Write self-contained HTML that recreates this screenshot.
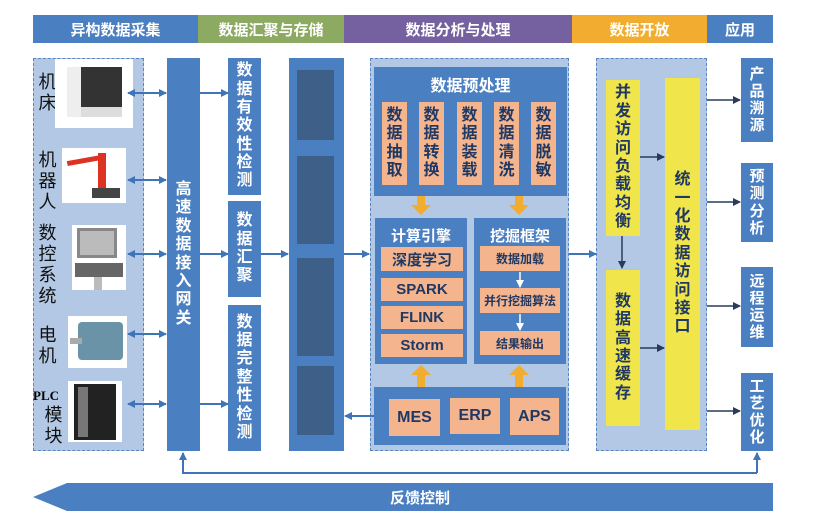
<!DOCTYPE html>
<html><head><meta charset="utf-8"><style>
body{margin:0;width:813px;height:526px;background:#fff;position:relative;overflow:hidden;font-family:"Liberation Sans","Noto Sans CJK SC",sans-serif}
.a{position:absolute;box-sizing:border-box}
.b{background:#4a7fc1}
.lb{background:#b3c8e4;border:1.5px dashed #5a86bf}
.v{display:flex;align-items:center;justify-content:center;text-align:center;font-weight:bold;color:#fff;word-break:break-all}
.v span{display:block;width:1em;line-height:1.15}
.o{background:#f3b48e;color:#1f3864}
.y{background:#f0e54a;color:#1f3864}
.h{color:#fff;font-weight:bold;font-size:15px;display:flex;align-items:center;justify-content:center}
.lab{color:#111;font-size:18px;line-height:21px;width:19px;text-align:center}
.img{background:#fff}
</style></head><body>
<!-- header -->
<div class="a h" style="left:33px;top:15px;width:165px;height:28px;background:#4a7fc1">异构数据采集</div>
<div class="a h" style="left:198px;top:15px;width:146px;height:28px;background:#8daa62">数据汇聚与存储</div>
<div class="a h" style="left:344px;top:15px;width:228px;height:28px;background:#7560a0">数据分析与处理</div>
<div class="a h" style="left:572px;top:15px;width:135px;height:28px;background:#f2ad30">数据开放</div>
<div class="a h" style="left:707px;top:15px;width:66px;height:28px;background:#4a7fc1">应用</div>

<!-- left panel -->
<div class="a lb" style="left:33px;top:58px;width:111px;height:393px"></div>
<div class="a lab" style="left:38px;top:72px">机床</div>
<div class="a lab" style="left:38px;top:150px">机器人</div>
<div class="a lab" style="left:38px;top:223px">数控系统</div>
<div class="a lab" style="left:38px;top:325px">电机</div>
<div class="a" style="left:33px;top:388px;font-family:'Liberation Serif',serif;font-weight:bold;font-size:13px">PLC</div>
<div class="a lab" style="left:44px;top:405px">模块</div>
<div class="a img" style="left:55px;top:59px;width:78px;height:69px"><div class="a" style="left:12px;top:8px;width:55px;height:50px;background:#333;border-bottom:10px solid #ddd"></div><div class="a" style="left:12px;top:8px;width:14px;height:50px;background:#eee"></div></div>
<div class="a img" style="left:62px;top:148px;width:64px;height:55px"><div class="a" style="left:36px;top:5px;width:8px;height:40px;background:#d32"></div><div class="a" style="left:5px;top:10px;width:35px;height:5px;background:#d32;transform:rotate(-10deg)"></div><div class="a" style="left:30px;top:40px;width:28px;height:10px;background:#444"></div></div>
<div class="a img" style="left:72px;top:225px;width:54px;height:65px"><div class="a" style="left:5px;top:3px;width:40px;height:30px;background:#bbb;border:3px solid #888"></div><div class="a" style="left:3px;top:38px;width:48px;height:14px;background:#666"></div><div class="a" style="left:22px;top:52px;width:8px;height:13px;background:#bbb"></div></div>
<div class="a img" style="left:68px;top:316px;width:59px;height:52px"><div class="a" style="left:10px;top:6px;width:45px;height:38px;background:#6a93a8;border-radius:4px"></div><div class="a" style="left:2px;top:22px;width:12px;height:6px;background:#aaa"></div></div>
<div class="a img" style="left:68px;top:381px;width:54px;height:61px"><div class="a" style="left:6px;top:3px;width:42px;height:56px;background:#222"></div><div class="a" style="left:10px;top:6px;width:10px;height:50px;background:#777"></div></div>

<!-- gateway -->
<div class="a b v" style="left:167px;top:58px;width:33px;height:393px;font-size:16px"><span>高速数据接入网关</span></div>
<!-- col3 -->
<div class="a b v" style="left:228px;top:58px;width:33px;height:137px;font-size:16px"><span>数据有效性检测</span></div>
<div class="a b v" style="left:228px;top:201px;width:33px;height:96px;font-size:16px"><span>数据汇聚</span></div>
<div class="a b v" style="left:228px;top:305px;width:33px;height:146px;font-size:16px"><span>数据完整性检测</span></div>
<!-- storage -->
<div class="a b" style="left:289px;top:58px;width:55px;height:393px"></div>
<div class="a" style="left:297px;top:70px;width:37px;height:70px;background:#3e5f87"></div>
<div class="a" style="left:297px;top:156px;width:37px;height:88px;background:#3e5f87"></div>
<div class="a" style="left:297px;top:258px;width:37px;height:98px;background:#3e5f87"></div>
<div class="a" style="left:297px;top:366px;width:37px;height:69px;background:#3e5f87"></div>

<!-- analysis -->
<div class="a lb" style="left:370px;top:58px;width:199px;height:393px"></div>
<div class="a b" style="left:374px;top:67px;width:193px;height:129px"></div>
<div class="a h" style="left:374px;top:72px;width:193px;height:24px;font-size:16px">数据预处理</div>
<div class="a o v" style="left:382px;top:102px;width:25px;height:83px;font-size:16px"><span>数据抽取</span></div>
<div class="a o v" style="left:419px;top:102px;width:25px;height:83px;font-size:16px"><span>数据转换</span></div>
<div class="a o v" style="left:457px;top:102px;width:25px;height:83px;font-size:16px"><span>数据装载</span></div>
<div class="a o v" style="left:494px;top:102px;width:25px;height:83px;font-size:16px"><span>数据清洗</span></div>
<div class="a o v" style="left:531px;top:102px;width:25px;height:83px;font-size:16px"><span>数据脱敏</span></div>

<div class="a b" style="left:375px;top:218px;width:92px;height:146px"></div>
<div class="a h" style="left:375px;top:224px;width:92px;height:22px;font-size:15px">计算引擎</div>
<div class="a o h" style="left:381px;top:247px;width:82px;height:24px;font-size:15px;color:#1f3864">深度学习</div>
<div class="a o h" style="left:381px;top:278px;width:82px;height:23px;font-size:15px;color:#1f3864">SPARK</div>
<div class="a o h" style="left:381px;top:306px;width:82px;height:23px;font-size:15px;color:#1f3864">FLINK</div>
<div class="a o h" style="left:381px;top:334px;width:82px;height:23px;font-size:15px;color:#1f3864">Storm</div>

<div class="a b" style="left:474px;top:218px;width:92px;height:146px"></div>
<div class="a h" style="left:474px;top:224px;width:92px;height:22px;font-size:15px">挖掘框架</div>
<div class="a o h" style="left:480px;top:246px;width:80px;height:25px;font-size:12px;color:#1f3864">数据加载</div>
<div class="a o h" style="left:480px;top:288px;width:80px;height:25px;font-size:12px;color:#1f3864">并行挖掘算法</div>
<div class="a o h" style="left:480px;top:331px;width:80px;height:24px;font-size:12px;color:#1f3864">结果输出</div>

<div class="a b" style="left:374px;top:387px;width:192px;height:58px"></div>
<div class="a o h" style="left:389px;top:399px;width:51px;height:37px;font-size:16px;color:#1f3864">MES</div>
<div class="a o h" style="left:450px;top:398px;width:50px;height:36px;font-size:16px;color:#1f3864">ERP</div>
<div class="a o h" style="left:510px;top:398px;width:49px;height:37px;font-size:16px;color:#1f3864">APS</div>

<!-- open -->
<div class="a lb" style="left:596px;top:58px;width:111px;height:393px"></div>
<div class="a y v" style="left:606px;top:80px;width:34px;height:156px;font-size:16px"><span>并发访问负载均衡</span></div>
<div class="a y v" style="left:606px;top:270px;width:34px;height:156px;font-size:16px"><span>数据高速缓存</span></div>
<div class="a y v" style="left:665px;top:78px;width:35px;height:352px;font-size:16px"><span>统一化数据访问接口</span></div>

<!-- apps -->
<div class="a b v" style="left:741px;top:58px;width:32px;height:84px;font-size:15px"><span>产品溯源</span></div>
<div class="a b v" style="left:741px;top:163px;width:32px;height:79px;font-size:15px"><span>预测分析</span></div>
<div class="a b v" style="left:741px;top:267px;width:32px;height:80px;font-size:15px"><span>远程运维</span></div>
<div class="a b v" style="left:741px;top:373px;width:32px;height:78px;font-size:15px"><span>工艺优化</span></div>

<svg class="a" style="left:0;top:0" width="813" height="526">
<defs>
<marker id="m" markerWidth="8" markerHeight="8" refX="7" refY="4" orient="auto" markerUnits="userSpaceOnUse"><path d="M0,0L8,4L0,8z" fill="#3f74b8"/></marker>
<marker id="ms" markerWidth="8" markerHeight="8" refX="1" refY="4" orient="auto" markerUnits="userSpaceOnUse"><path d="M8,0L0,4L8,8z" fill="#3f74b8"/></marker>
<marker id="d" markerWidth="8" markerHeight="8" refX="7" refY="4" orient="auto" markerUnits="userSpaceOnUse"><path d="M0,0L8,4L0,8z" fill="#2a3a5a"/></marker>
<marker id="w" markerWidth="8" markerHeight="8" refX="7" refY="4" orient="auto" markerUnits="userSpaceOnUse"><path d="M0,0L8,4L0,8z" fill="#fff"/></marker>
</defs>
<g stroke="#3f74b8" stroke-width="2" fill="none">
<path d="M128,93H166" marker-start="url(#ms)" marker-end="url(#m)"/>
<path d="M128,180H166" marker-start="url(#ms)" marker-end="url(#m)"/>
<path d="M128,254H166" marker-start="url(#ms)" marker-end="url(#m)"/>
<path d="M128,334H166" marker-start="url(#ms)" marker-end="url(#m)"/>
<path d="M128,404H166" marker-start="url(#ms)" marker-end="url(#m)"/>
<path d="M200,93H228" marker-end="url(#m)"/>
<path d="M200,254H228" marker-end="url(#m)"/>
<path d="M200,404H228" marker-end="url(#m)"/>
<path d="M261,254H288" marker-end="url(#m)"/>
<path d="M344,254H369" marker-end="url(#m)"/>
<path d="M374,416H345" marker-end="url(#m)"/>
<path d="M569,254H596" marker-end="url(#m)"/>
<path d="M757,473H183V453" marker-end="url(#m)"/>
<path d="M757,473V453" marker-end="url(#m)"/>
</g>
<g stroke="#2a3a5a" stroke-width="1.5" fill="none">
<path d="M640,157H664" marker-end="url(#d)"/>
<path d="M640,348H664" marker-end="url(#d)"/>
<path d="M622,236V268" marker-end="url(#d)"/>
<path d="M707,100H740" marker-end="url(#d)"/>
<path d="M707,202H740" marker-end="url(#d)"/>
<path d="M707,306H740" marker-end="url(#d)"/>
<path d="M707,411H740" marker-end="url(#d)"/>
</g>
<g stroke="#fff" stroke-width="1.5">
<path d="M520,272V287" marker-end="url(#w)"/>
<path d="M520,314V330" marker-end="url(#w)"/>
</g>
<g fill="#f2ad30">
<path d="M417,196h8v9h6l-10,10l-10,-10h6z"/>
<path d="M515,196h8v9h6l-10,10l-10,-10h6z"/>
<path d="M417,387h8v-12h6l-10,-10l-10,10h6z"/>
<path d="M515,387h8v-12h6l-10,-10l-10,10h6z"/>
</g>
<path d="M33,497L67,483H773V511H67Z" fill="#4a7fc1"/>
<text x="420" y="503" font-size="15" font-weight="bold" fill="#fff" text-anchor="middle" font-family="Liberation Sans,Noto Sans CJK SC,sans-serif">反馈控制</text>
</svg>
</body></html>
